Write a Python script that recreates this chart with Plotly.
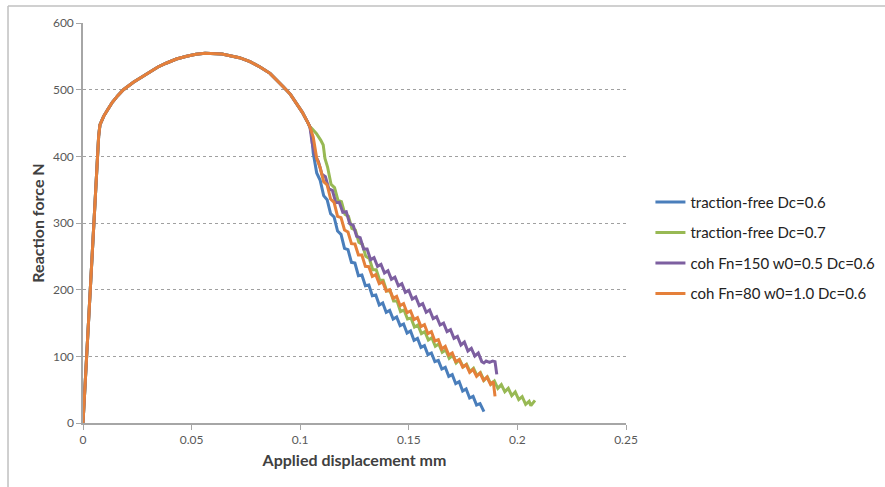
import plotly.graph_objects as go

# Shared loading branch (same for all four runs)
common_x = [0, 0.0035, 0.0072, 0.0078, 0.0095, 0.0112, 0.0135, 0.016, 0.0186, 0.0232, 0.0275, 0.0308,
            0.0345, 0.0385, 0.043, 0.0477, 0.052, 0.0562, 0.06, 0.064, 0.0677, 0.072, 0.0769,
            0.0815, 0.0861, 0.0892, 0.0922, 0.0955, 0.0984, 0.101, 0.1037, 0.1045]
common_y = [0, 215, 430, 447, 460, 469, 481, 491, 500, 511, 520, 527,
            534, 540, 546, 550, 553, 554.5, 554.5, 553.5, 551, 548, 542,
            534, 524.5, 515, 504.5, 493, 479.5, 466, 449.5, 444]

# Post-peak softening branches
tf06_x = [0.1053, 0.106, 0.1076, 0.1092, 0.1108, 0.1124, 0.114, 0.1156, 0.1172, 0.1188, 0.1204, 0.122,
          0.1236, 0.1252, 0.1268, 0.1284, 0.13, 0.1316, 0.1332, 0.1348, 0.1364, 0.138, 0.1396, 0.1412,
          0.1428, 0.1444, 0.146, 0.1476, 0.1492, 0.1508, 0.1524, 0.154, 0.1556, 0.1572, 0.1588, 0.1604,
          0.162, 0.1636, 0.1652, 0.1668, 0.1684, 0.17, 0.1716, 0.1732, 0.1748, 0.1764, 0.178, 0.1796,
          0.1812, 0.1828, 0.1846]
tf06_y = [432, 405, 375, 364, 341, 335, 314, 309, 288, 283, 262, 260,
          241, 240, 221, 222, 206, 207, 191, 192, 177, 180, 166, 169,
          156, 159, 146, 148.5, 135, 138, 124, 127, 113.5, 116, 102.6, 105,
          92, 94, 81, 83.5, 70, 72.6, 59, 62, 48, 51, 37.5, 40,
          27, 29, 17]

tf07_x = [0.1053, 0.1075, 0.1095, 0.1106, 0.1114, 0.1126, 0.1142, 0.1158, 0.1174, 0.119, 0.1206, 0.1222,
          0.1238, 0.1254, 0.127, 0.1286, 0.1302, 0.1318, 0.1334, 0.135, 0.1366, 0.1382, 0.1398, 0.1414,
          0.143, 0.1446, 0.1462, 0.1478, 0.1494, 0.151, 0.1526, 0.1542, 0.1558, 0.1574, 0.159, 0.1606,
          0.1622, 0.1638, 0.1654, 0.167, 0.1686, 0.1702, 0.1718, 0.1734, 0.175, 0.1766, 0.1782, 0.1798,
          0.1814, 0.183, 0.1846, 0.1862, 0.1878, 0.1894, 0.191, 0.1926, 0.1942, 0.1958, 0.1974, 0.199,
          0.2006, 0.2022, 0.2038, 0.2054, 0.2062, 0.2081]
tf07_y = [442, 434, 424, 417, 397, 384, 358, 353, 334, 332, 313, 310,
          292, 289.5, 271, 268, 250, 247, 230, 230, 214, 214, 198, 198.5,
          183, 183, 167, 169.5, 156, 157.5, 144, 147, 134, 137, 124.5, 128,
          115, 118.5, 106, 109.5, 97, 101.5, 90, 95, 84, 88, 77, 82,
          71, 75.5, 64, 69, 58, 63, 52, 57.5, 47, 52, 41, 46.5,
          35, 39.5, 28, 32.5, 26, 34]

coh150_x = [0.1055, 0.1068, 0.1084, 0.11, 0.1116, 0.1132, 0.1148, 0.1164, 0.118, 0.1196, 0.1212, 0.1228,
            0.1244, 0.126, 0.1276, 0.1292, 0.1308, 0.1324, 0.134, 0.1356, 0.1372, 0.1388, 0.1404, 0.142,
            0.1436, 0.1452, 0.1468, 0.1484, 0.15, 0.1516, 0.1532, 0.1548, 0.1564, 0.158, 0.1596, 0.1612,
            0.1628, 0.1644, 0.166, 0.1676, 0.1692, 0.1708, 0.1724, 0.174, 0.1756, 0.1772, 0.1788, 0.1804,
            0.182, 0.1836, 0.1846, 0.1856, 0.1872, 0.1886, 0.1897, 0.1905]
coh150_y = [420, 402, 392, 373, 369.5, 351, 349, 330.5, 331, 316, 317, 299,
            296.5, 280, 278, 261, 261, 245, 248, 235, 238, 225, 228.5, 215.5,
            218.6, 205.7, 208.8, 196, 199, 186, 189, 176, 179, 166, 169.5, 156.5,
            159.6, 147, 149.8, 137, 140, 127, 130, 117, 121.5, 108, 112, 100.5,
            105, 92, 90, 93, 91, 93, 92, 73]

coh80_x = [0.106, 0.1076, 0.1092, 0.1108, 0.1124, 0.114, 0.1156, 0.1172, 0.1188, 0.1204, 0.122, 0.1236,
           0.1252, 0.1268, 0.1284, 0.13, 0.1316, 0.1332, 0.1348, 0.1364, 0.138, 0.1396, 0.1412, 0.1428,
           0.1444, 0.146, 0.1476, 0.1492, 0.1508, 0.1524, 0.154, 0.1556, 0.1572, 0.1588, 0.1604, 0.162,
           0.1636, 0.1652, 0.1668, 0.1684, 0.17, 0.1716, 0.1732, 0.1748, 0.1764, 0.178, 0.1796, 0.1812,
           0.1828, 0.1844, 0.186, 0.1876, 0.1889, 0.1897]
coh80_y = [429, 397, 383, 362, 357, 336, 331, 310, 308, 289.5, 286.5, 269,
           268.5, 252, 252, 235, 234.5, 220, 222.5, 209, 211.5, 198, 200, 187,
           190, 176, 179, 165.5, 168, 155, 158, 144.7, 147.5, 134, 137, 123,
           125, 111, 115, 102, 105, 92, 95, 84, 87.5, 76, 80.5, 70,
           75, 64, 69, 58, 62, 40]

series_names = ["traction-free Dc=0.6", "traction-free Dc=0.7",
                "coh Fn=150 w0=0.5 Dc=0.6", "coh Fn=80 w0=1.0 Dc=0.6"]
series_x = [tf06_x, tf07_x, coh150_x, coh80_x]
series_y = [tf06_y, tf07_y, coh150_y, coh80_y]
series_colors = ["#4A7EBB", "#98B954", "#7D5FA0", "#E5803A"]

x_ticks = [0, 0.05, 0.1, 0.15, 0.2, 0.25]
x_ticklabels = ["0", "0.05", "0.1", "0.15", "0.2", "0.25"]
y_ticks = [0, 100, 200, 300, 400, 500, 600]

fig = go.Figure()
for i, (nm, xs, ys, col) in enumerate(zip(series_names, series_x, series_y, series_colors)):
    fig.add_trace(go.Scatter(
        x=common_x + xs, y=common_y + ys, mode="lines", name=nm,
        line=dict(color=col, width=3), legendgroup="g%d" % i,
    ))

axis_col = "#A6A6A6"
fig.update_xaxes(range=[0, 0.25], tickvals=x_ticks, ticktext=x_ticklabels,
                 showline=True, linecolor=axis_col, linewidth=1.5,
                 ticks="outside", ticklen=5, tickcolor=axis_col,
                 showgrid=False, zeroline=False,
                 tickfont=dict(family="Lato", size=12, color="#595959"),
                 title=dict(text="<b>Applied displacement mm</b>",
                            font=dict(family="Lato", size=16, color="#404040"), standoff=9))
fig.update_yaxes(range=[0, 600], tickvals=y_ticks,
                 showline=True, linecolor=axis_col, linewidth=1.5,
                 ticks="outside", ticklen=5, tickcolor=axis_col,
                 showgrid=True, gridcolor="#A0A0A0", griddash="dot", gridwidth=1,
                 zeroline=False,
                 tickfont=dict(family="Lato", size=12, color="#595959"),
                 title=dict(text="<b>Reaction force N</b>",
                            font=dict(family="Lato", size=16, color="#404040"), standoff=4))

frame_col = "#C0C0C0"
fig.add_shape(type="line", xref="paper", yref="paper", x0=-0.1381, x1=1.5, y0=1.0425, y1=1.0425,
              line=dict(color=frame_col, width=1.5))
fig.add_shape(type="line", xref="paper", yref="paper", x0=-0.1381, x1=-0.1381, y0=1.0425, y1=-0.2,
              line=dict(color=frame_col, width=1.5))

fig.update_layout(
    width=885, height=487,
    margin=dict(l=83, r=259, t=23, b=64, autoexpand=False),
    paper_bgcolor="white", plot_bgcolor="white",
    showlegend=True,
    legend=dict(x=1.045, xanchor="left", y=0.593, yanchor="top",
                font=dict(family="Lato", size=15, color="#222222"),
                traceorder="grouped", tracegroupgap=8, itemwidth=30,
                bgcolor="rgba(0,0,0,0)"),
)

fig.write_html("out.html")
